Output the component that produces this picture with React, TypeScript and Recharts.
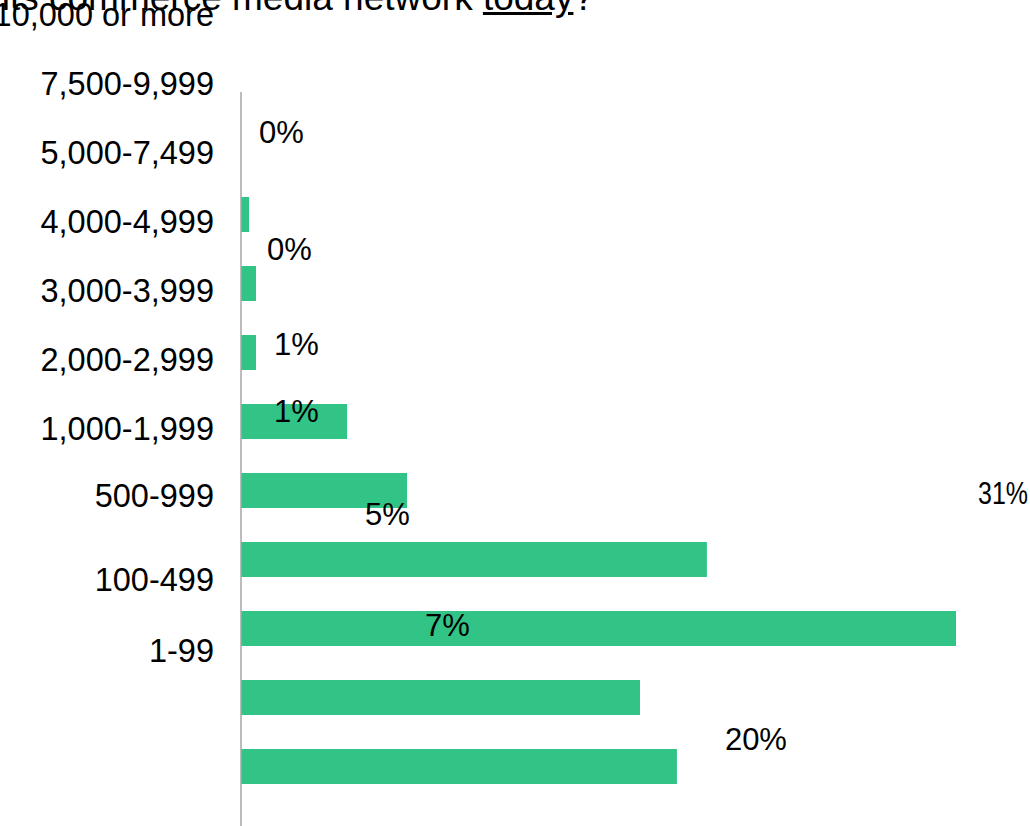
import { Bar, ComposedChart, Scatter, XAxis, YAxis } from 'recharts';

const categories = [
  '10,000 or more',
  '7,500-9,999',
  '5,000-7,499',
  '4,000-4,999',
  '3,000-3,999',
  '2,000-2,999',
  '1,000-1,999',
  '500-999',
  '100-499',
  '1-99',
];
const shares = [0, 0.35, 0.65, 0.65, 4.6, 7.2, 20.2, 31, 17.3, 18.9];
const shareLabels = ['0%', '0%', '1%', '1%', '5%', '7%', '20%', '31%', '', ''];

// the exported slide had its text drifted off the rows; keep that drift
const tickDrift = [-131, -131, -131, -131, -131, -131, -131, -133, -118, -116];
const labelDrift = [-14, 34, 60, 58, 92, 134, 179, -136, 0, 0];

const FONT = '"Liberation Sans", Arial, sans-serif';
const GREEN = '#31c486';
const CHART_W = 1030;

const data = categories.map((range, i) => ({ range, share: shares[i], label: shareLabels[i] }));

function CategoryTick(props: any) {
  const { x, y, payload } = props;
  const i = categories.indexOf(payload.value);
  return (
    <text x={x} y={y + tickDrift[i]} dy="0.36em" textAnchor="end" fontSize={32.5} fill="#000" fontFamily={FONT}>
      {payload.value}
    </text>
  );
}

// value labels drawn as scatter "points" so the zero row keeps its label
function ShareLabel(props: any) {
  const { cx, cy, payload } = props;
  const i = categories.indexOf(payload.range);
  if (!payload.label) return <g />;
  const fontSize = 31;
  const x = cx + (payload.share >= 30 ? 22 : 18);
  // rough width guess; squeeze the text if it would run off the right edge
  const est = payload.label.length * 0.64 * fontSize;
  const room = CHART_W - 2 - x;
  return (
    <text
      x={x}
      y={cy + labelDrift[i]}
      dy="0.36em"
      fontSize={fontSize}
      fill="#000"
      fontFamily={FONT}
      textLength={est > room ? room : undefined}
      lengthAdjust="spacingAndGlyphs"
    >
      {payload.label}
    </text>
  );
}

export default function App() {
  return (
    <div style={{ position: 'relative', width: CHART_W, height: 826, overflow: 'hidden', background: '#fff', fontFamily: FONT }}>
      <style>{'body{margin:0}'}</style>
      <div
        style={{
          position: 'absolute',
          right: 436,
          top: -21,
          fontSize: 37,
          lineHeight: 1,
          whiteSpace: 'nowrap',
          color: '#000',
        }}
      >
        How many locations are in its commerce media network <u>today</u>?
      </div>
      <ComposedChart
        layout="vertical"
        width={CHART_W}
        height={826}
        data={data}
        margin={{ top: 92, right: 74, bottom: 0, left: 0 }}
        style={{ position: 'absolute', left: 0, top: 0 }}
      >
        <XAxis type="number" domain={[0, 31]} hide />
        <YAxis
          type="category"
          dataKey="range"
          width={241}
          padding={{ top: 19, bottom: 25 }}
          axisLine={{ stroke: '#a6a6a6', strokeWidth: 1.5 }}
          tickLine={false}
          tickSize={0}
          tickMargin={27}
          interval={0}
          tick={<CategoryTick />}
        />
        <Bar dataKey="share" fill={GREEN} barSize={35} isAnimationActive={false} />
        <Scatter dataKey="share" shape={ShareLabel} isAnimationActive={false} />
      </ComposedChart>
    </div>
  );
}
